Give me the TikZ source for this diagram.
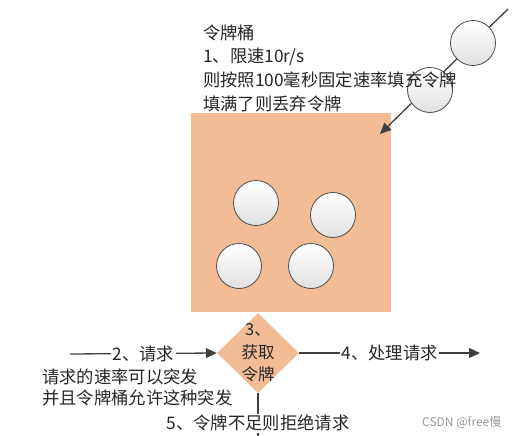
\documentclass[tikz,border=0pt]{standalone}
\usepackage{fontspec}
\setmainfont{Noto Sans CJK SC}
\usetikzlibrary{shapes.geometric,arrows.meta}
\definecolor{bucket}{RGB}{242,189,150}
\definecolor{ink}{RGB}{64,64,64}
\begin{document}
\begin{tikzpicture}[x=1pt,y=-1pt,
  txt/.style={font=\fontsize{17.3}{23.5}\selectfont, inner sep=0pt, text=black!85},
  token/.style={circle, minimum size=45pt, draw=black!70, line width=0.8pt, top color=white, bottom color=black!12, inner sep=0pt},
  flow/.style={draw=ink, line width=1.3pt, -{Triangle[length=11pt,width=10pt]}},
  plain/.style={draw=ink, line width=1.3pt},
  lab/.style={txt, fill=white, inner sep=1.5pt}]
\useasboundingbox (0,0) rectangle (519,436);
% bucket
\node[rectangle, fill=bucket, minimum width=200pt, minimum height=199pt, inner sep=0pt, anchor=north west] (bucket) at (191,113) {};
\node[token] (tk1) at (256,203) {};
\node[token] (tk2) at (333,215) {};
\node[token] (tk3) at (239,266) {};
\node[token] (tk4) at (311,266) {};
% incoming tokens
\coordinate (src) at (508,9);
\coordinate (drop) at (380,134);
\draw[flow] (src) -- (drop);
\node[token] (tk5) at (473,43) {};
\node[token] (tk6) at (430,90) {};
% top text
\node[txt, anchor=west] (t1) at (203,33) {令牌桶};
\node[txt, anchor=west] (t2) at (203,57) {1、限速10r/s};
\node[txt, anchor=west] (t3) at (203,80) {则按照100毫秒固定速率填充令牌};
\node[txt, anchor=west] (t4) at (203,104) {填满了则丢弃令牌};
% diamond
\node[diamond, fill=bucket, minimum width=82pt, minimum height=80pt, inner sep=0pt] (get) at (258,353) {};
\node[txt, align=center, font=\fontsize{16.5}{22.5}\selectfont] (gettxt) at (get.center) {3、\\获取\\令牌};
% flows
\coordinate (in) at (70,354);
\draw[flow] (in) -- node[lab] (l2) {2、请求} (get.west);
\coordinate (out) at (480,353);
\draw[flow] (get.east) -- node[lab] (l4) {4、处理请求} (out);
\coordinate (rej) at (258,440);
\draw[plain] (get.south) -- node[lab, pos=0.64] (l5) {5、令牌不足则拒绝请求} (rej);
% notes
\node[txt, anchor=west] (n1) at (42,377) {请求的速率可以突发};
\node[txt, anchor=west] (n2) at (42,398) {并且令牌桶允许这种突发};
% watermark
\node[font=\fontsize{12}{12}\selectfont, text=black!40, inner sep=0pt, anchor=west] (wm) at (422,422) {CSDN @free慢};
\end{tikzpicture}
\end{document}
